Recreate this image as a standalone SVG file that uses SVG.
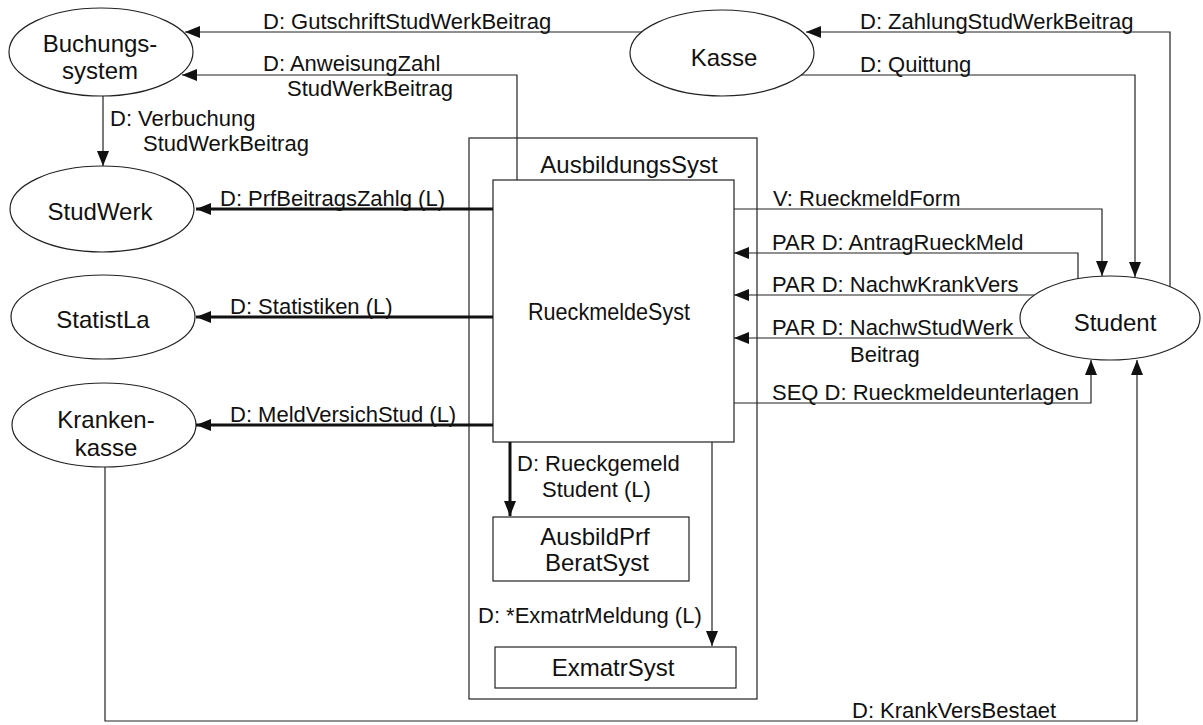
<svg xmlns="http://www.w3.org/2000/svg" width="1203" height="725" viewBox="0 0 1203 725">
<style>
  .node { fill: #fff; stroke: #222; stroke-width: 1.2; }
  .nt { font-family: "Liberation Sans", Arial, sans-serif; font-size: 24px; fill: #111; text-anchor: middle; }
  .lbl { font-family: "Liberation Sans", Arial, sans-serif; font-size: 22px; fill: #111; }
  .c { fill: none; stroke: #222; stroke-width: 1.2; }
  .thick { fill: none; stroke: #111; stroke-width: 3; }
</style>
<defs>
  <marker id="arr" markerUnits="userSpaceOnUse" markerWidth="15" markerHeight="12" refX="15" refY="6" orient="auto">
    <path d="M0,0 L15,6 L0,12 z" fill="#111"/>
  </marker>
</defs>
<rect width="1203" height="725" fill="#fff"/>

<g id="AusbildungsSyst">
  <rect class="node" x="469" y="138" width="288" height="561"/>
  <text class="nt" x="629" y="173" font-size="23">AusbildungsSyst</text>
</g>
<g id="RueckmeldeSyst">
  <rect class="node" x="493" y="180" width="241" height="262"/>
  <text class="nt" x="609" y="320" font-size="23" textLength="162" lengthAdjust="spacingAndGlyphs">RueckmeldeSyst</text>
</g>
<g id="AusbildPrfBeratSyst">
  <rect class="node" x="493" y="517" width="196" height="64"/>
  <text class="nt" x="595" y="545">AusbildPrf</text>
  <text class="nt" x="597" y="571">BeratSyst</text>
</g>
<g id="ExmatrSyst">
  <rect class="node" x="495" y="647" width="241" height="41"/>
  <text class="nt" x="613" y="676">ExmatrSyst</text>
</g>

<g id="Buchungssystem">
  <ellipse class="node" cx="101" cy="52" rx="92" ry="44"/>
  <text class="nt" x="100" y="52">Buchungs-</text>
  <text class="nt" x="100" y="79">system</text>
</g>
<g id="Kasse">
  <ellipse class="node" cx="722" cy="53" rx="92" ry="43"/>
  <text class="nt" x="724" y="66">Kasse</text>
</g>
<g id="StudWerk">
  <ellipse class="node" cx="102" cy="209" rx="92" ry="43"/>
  <text class="nt" x="100" y="220">StudWerk</text>
</g>
<g id="StatistLa">
  <ellipse class="node" cx="103" cy="317" rx="92" ry="42"/>
  <text class="nt" x="103" y="328">StatistLa</text>
</g>
<g id="Krankenkasse">
  <ellipse class="node" cx="104" cy="425" rx="92" ry="42"/>
  <text class="nt" x="106" y="428">Kranken-</text>
  <text class="nt" x="106" y="456">kasse</text>
</g>
<g id="Student">
  <ellipse class="node" cx="1110" cy="318" rx="90" ry="42"/>
  <text class="nt" x="1115" y="331">Student</text>
</g>

<g id="connectors">
  <path class="c" d="M642,32 L185,32" marker-end="url(#arr)"/>
  <path class="c" d="M517,180 L517,75 L182,75" marker-end="url(#arr)"/>
  <path class="c" d="M103,96 L103,166" marker-end="url(#arr)"/>
  <path class="c" d="M1170,287 L1170,32 L806,32" marker-end="url(#arr)"/>
  <path class="c" d="M801,75 L1135,75 L1135,277" marker-end="url(#arr)"/>
  <path class="thick" d="M493,209 L196,209" marker-end="url(#arr)"/>
  <path class="thick" d="M493,317 L196,317" marker-end="url(#arr)"/>
  <path class="thick" d="M493,425 L196,425" marker-end="url(#arr)"/>
  <path class="c" d="M734,209 L1102,209 L1102,276" marker-end="url(#arr)"/>
  <path class="c" d="M1078,279 L1078,253 L734,253" marker-end="url(#arr)"/>
  <path class="c" d="M1034,295 L734,295" marker-end="url(#arr)"/>
  <path class="c" d="M1030,338 L734,338" marker-end="url(#arr)"/>
  <path class="c" d="M734,403 L1091,403 L1091,360" marker-end="url(#arr)"/>
  <path class="c" d="M105,467 L105,721 L1137,721 L1137,360" marker-end="url(#arr)"/>
  <path class="thick" d="M510,442 L510,516" marker-end="url(#arr)"/>
  <path class="c" d="M712,442 L712,646" marker-end="url(#arr)"/>

  <text class="lbl" x="263" y="29">D: GutschriftStudWerkBeitrag</text>
  <text class="lbl" x="263" y="71">D: AnweisungZahl</text>
  <text class="lbl" x="287" y="96">StudWerkBeitrag</text>
  <text class="lbl" x="110" y="126">D: Verbuchung</text>
  <text class="lbl" x="143" y="151">StudWerkBeitrag</text>
  <text class="lbl" x="220" y="206">D: PrfBeitragsZahlg (L)</text>
  <text class="lbl" x="230" y="314">D: Statistiken (L)</text>
  <text class="lbl" x="230" y="422">D: MeldVersichStud (L)</text>
  <text class="lbl" x="860" y="29">D: ZahlungStudWerkBeitrag</text>
  <text class="lbl" x="860" y="72">D: Quittung</text>
  <text class="lbl" x="773" y="206">V: RueckmeldForm</text>
  <text class="lbl" x="772" y="250">PAR D: AntragRueckMeld</text>
  <text class="lbl" x="772" y="292">PAR D: NachwKrankVers</text>
  <text class="lbl" x="772" y="335">PAR D: NachwStudWerk</text>
  <text class="lbl" x="850" y="362">Beitrag</text>
  <text class="lbl" x="772" y="400">SEQ D: Rueckmeldeunterlagen</text>
  <text class="lbl" x="517" y="471">D: Rueckgemeld</text>
  <text class="lbl" x="542" y="497">Student (L)</text>
  <text class="lbl" x="478" y="623">D: *ExmatrMeldung (L)</text>
  <text class="lbl" x="852" y="718">D: KrankVersBestaet</text>
</g>
</svg>
